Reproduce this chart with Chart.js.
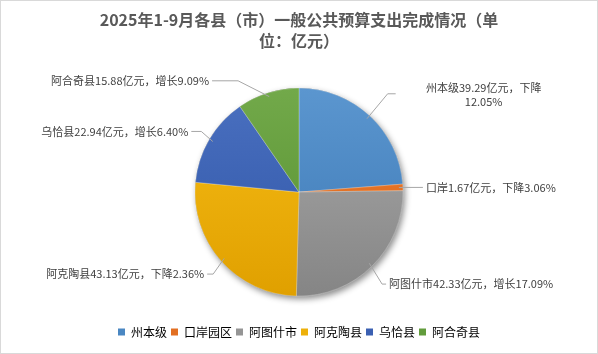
<!DOCTYPE html>
<html>
<head>
<meta charset="utf-8">
<script src="https://cdn.jsdelivr.net/npm/chart.js@4.4.1/dist/chart.umd.min.js"></script>
<style>
  html, body { margin: 0; padding: 0; background: #fff; }
  #wrap { width: 596px; height: 352px; border: 1px solid #d9d9d9; position: relative; }
</style>
</head>
<body>
<div id="wrap"><canvas id="myChart" width="596" height="352"></canvas></div>
<script>
// data
var regions = ['州本级', '口岸园区', '阿图什市', '阿克陶县', '乌恰县', '阿合奇县']
var labelNames = ['州本级', '口岸', '阿图什市', '阿克陶县', '乌恰县', '阿合奇县']
var amounts = [39.29, 1.67, 42.33, 43.13, 22.94, 15.88]
var changeWord = ['下降', '下降', '增长', '下降', '增长', '增长']
var changePct = ['12.05%', '3.06%', '17.09%', '2.36%', '6.40%', '9.09%']

// colours (top / bottom of gradient)
var topColors = ['#5b96cf', '#ee7d2e', '#aaaaaa', '#f7bd16', '#4a70c0', '#72a94a']
var bottomColors = ['#3c78b5', '#d9661b', '#858585', '#e0a000', '#2f55a6', '#558f2e']
var legendColors = ['#4a87c2', '#e26f22', '#959595', '#edb00a', '#3b60b2', '#629c3c']

// label placement (relative to the outer mid point of each slice)
var labelLayout = [
    { dx: 18, dy: -22, hx: 8, align: 'center', lines: 2, tx: 88 },
    { dx: 0, dy: 0, hx: 20, align: 'left' },
    { dx: 10, dy: 18, hx: 4, align: 'left' },
    { dx: -8, dy: 13, hx: -6, align: 'right' },
    { dx: -8, dy: -8, hx: -10, align: 'right' },
    { dx: -30, dy: -12, hx: -26, align: 'right' }
]

var titleFont = '"Noto Sans CJK SC", "Noto Sans", sans-serif'
var pieRadius = 104

function pieGradient(ctx, i){
    var chart = ctx.chart
    var area = chart.chartArea
    if (!area) return topColors[i]
    var cy = (area.top + area.bottom) / 2
    var g = chart.ctx.createLinearGradient(0, cy - pieRadius, 0, cy + pieRadius)
    g.addColorStop(0, topColors[i])
    g.addColorStop(1, bottomColors[i])
    return g
}

var shadowPlugin = {
    id: 'pieShadow',
    beforeDatasetsDraw: function(chart){
        var arc = chart.getDatasetMeta(0).data[0]
        if (!arc) return
        var c = chart.ctx
        c.save()
        c.shadowColor = 'rgba(0,0,0,0.45)'
        c.shadowBlur = 6
        c.shadowOffsetX = 2
        c.shadowOffsetY = 3
        c.beginPath()
        c.arc(arc.x, arc.y, arc.outerRadius, 0, Math.PI * 2)
        c.fillStyle = '#888'
        c.fill()
        c.restore()
    }
}

var labelPlugin = {
    id: 'leaderLabels',
    afterDatasetsDraw: function(chart){
        var c = chart.ctx
        var meta = chart.getDatasetMeta(0)
        c.save()
        c.font = '11px ' + titleFont
        c.fillStyle = '#404040'
        c.strokeStyle = '#a6a6a6'
        c.lineWidth = 1
        c.textBaseline = 'middle'
        for (var i = 0; i < meta.data.length; i++){
            var arc = meta.data[i]
            var mid = (arc.startAngle + arc.endAngle) / 2
            var r = arc.outerRadius
            var px = arc.x + Math.cos(mid) * (r - 4)
            var py = arc.y + Math.sin(mid) * (r - 4)
            var L = labelLayout[i]
            var ex = arc.x + Math.cos(mid) * r + L.dx
            var ey = arc.y + Math.sin(mid) * r + L.dy
            var hx = ex + L.hx
            c.beginPath()
            c.moveTo(px, py)
            c.lineTo(ex, ey)
            c.lineTo(hx, ey)
            c.stroke()
            var txt = labelNames[i] + amounts[i].toFixed(2) + '亿元，' + changeWord[i] + changePct[i]
            var gap = 3
            if (L.lines == 2){
                var t1 = labelNames[i] + amounts[i].toFixed(2) + '亿元，' + changeWord[i]
                c.textAlign = 'center'
                c.fillText(t1, hx + L.tx, ey - 6)
                c.fillText(changePct[i], hx + L.tx, ey + 8)
            } else if (L.align == 'left'){
                c.textAlign = 'left'
                c.fillText(txt, hx + gap, ey)
            } else {
                c.textAlign = 'right'
                c.fillText(txt, hx - gap, ey)
            }
        }
        c.restore()
    }
}

var ctx = document.getElementById('myChart').getContext('2d')
var myChart = new Chart(ctx, {
    type: 'pie',
    data: {
        labels: regions,
        datasets: [{
            data: amounts,
            backgroundColor: function(context){ return pieGradient(context, context.dataIndex) },
            borderColor: 'rgba(255,255,255,0.5)',
            borderWidth: 0.5,
            hoverOffset: 0
        }]
    },
    plugins: [shadowPlugin, labelPlugin],
    options: {
        responsive: false,
        animation: false,
        radius: pieRadius,
        layout: { padding: { top: 4, bottom: 5, left: 0, right: 0 } },
        plugins: {
            tooltip: { enabled: false },
            title: {
                display: true,
                text: ['2025年1-9月各县（市）一般公共预算支出完成情况（单', '位：亿元）'],
                color: '#595959',
                font: { family: titleFont, size: 16, weight: 'bold', lineHeight: 1.35 },
                padding: { top: 4, bottom: 10 }
            },
            legend: {
                position: 'bottom',
                labels: {
                    color: '#595959',
                    font: { family: titleFont, size: 12 },
                    boxWidth: 7,
                    boxHeight: 7,
                    padding: 4,
                    generateLabels: function(chart){
                        return regions.map(function(name, i){
                            return {
                                text: name,
                                fillStyle: legendColors[i],
                                strokeStyle: legendColors[i],
                                lineWidth: 0,
                                index: i,
                                hidden: false
                            }
                        })
                    }
                }
            }
        }
    }
})
</script>
</body>
</html>
